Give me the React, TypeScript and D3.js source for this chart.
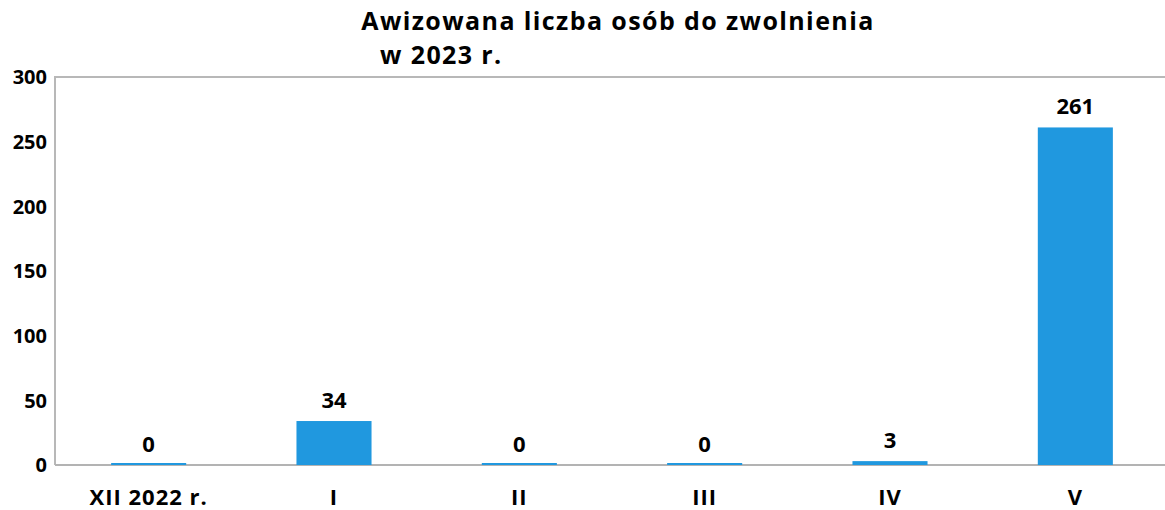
import React, { useEffect, useRef } from 'react';
import * as d3 from 'd3';

const categories = ['XII 2022 r.', 'I', 'II', 'III', 'IV', 'V'];
const values = [0, 34, 0, 0, 3, 261];
const yTicks = [0, 50, 100, 150, 200, 250, 300];
const titleLines = ['Awizowana liczba osób do zwolnienia', 'w 2023 r.'];

const App = () => {
  const svgRef = useRef<SVGSVGElement>(null);

  useEffect(() => {
    const width = 1165;
    const height = 510;
    const left = 55;
    const top = 77;
    const bottom = 465;
    const font = '"Open Sans", Lato, sans-serif';

    const svg = d3.select(svgRef.current);
    svg.selectAll('*').remove();
    svg.attr('width', width).attr('height', height).style('font-family', font);

    const x = d3.scaleBand<string>().domain(categories).range([56, 1168]).padding(0);
    const y = d3.scaleLinear().domain([0, 300]).range([bottom, top]);
    const barW = x.bandwidth() * 0.405;

    // frame: top line, left axis, baseline
    svg.append('line').attr('x1', left).attr('x2', width).attr('y1', top).attr('y2', top)
      .attr('stroke', '#b8b8b8').attr('stroke-width', 2);
    svg.append('line').attr('x1', left).attr('x2', left).attr('y1', top - 1).attr('y2', bottom)
      .attr('stroke', '#b8b8b8').attr('stroke-width', 2);
    svg.append('line').attr('x1', left).attr('x2', width).attr('y1', bottom).attr('y2', bottom)
      .attr('stroke', '#b3b3b3').attr('stroke-width', 2);

    svg.append('g').selectAll('text')
      .data(yTicks)
      .enter()
      .append('text')
      .attr('x', 47)
      .attr('y', d => y(d))
      .attr('dy', '0.36em')
      .attr('text-anchor', 'end')
      .style('font-size', '20px')
      .style('font-weight', 'bold')
      .text(d => d);

    svg.append('g').selectAll('rect')
      .data(values)
      .enter()
      .append('rect')
      .attr('x', (d, i) => x(categories[i])! + x.bandwidth() / 2 - barW / 2)
      .attr('y', d => Math.min(y(d), bottom - 2))
      .attr('width', barW)
      .attr('height', d => Math.max(bottom - y(d), 2))
      .attr('fill', '#2098df');

    svg.append('g').selectAll('text')
      .data(values)
      .enter()
      .append('text')
      .attr('x', (d, i) => x(categories[i])! + x.bandwidth() / 2)
      .attr('y', d => y(d) - 13)
      .attr('text-anchor', 'middle')
      .style('font-size', '22px')
      .style('font-weight', 'bold')
      .text(d => d);

    svg.append('g').selectAll('text')
      .data(categories)
      .enter()
      .append('text')
      .attr('x', d => x(d)! + x.bandwidth() / 2)
      .attr('y', 505)
      .attr('text-anchor', 'middle')
      .style('font-size', '22px')
      .style('font-weight', 'bold')
      .style('letter-spacing', '1px')
      .text(d => d);

    // two-line title
    const title = svg.append('text')
      .style('font-size', '25px')
      .style('font-weight', 'bold')
      .style('letter-spacing', '1.4px');
    title.append('tspan')
      .attr('x', 618)
      .attr('y', 29.5)
      .attr('text-anchor', 'middle')
      .text(titleLines[0]);
    title.append('tspan')
      .attr('x', 380)
      .attr('y', 64)
      .attr('text-anchor', 'start')
      .text(titleLines[1]);
  }, []);

  return (
    <div style={{ position: 'absolute', left: 0, top: 0 }}>
      <svg ref={svgRef}></svg>
    </div>
  );
};

export default App;
